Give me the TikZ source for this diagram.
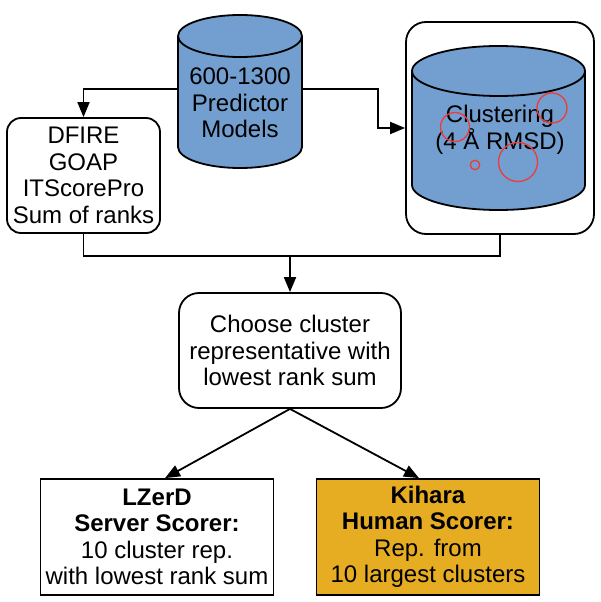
\documentclass[tikz,border=0pt]{standalone}
\usepackage{fontspec}
\setmainfont{Liberation Sans}
\usetikzlibrary{arrows.meta,positioning}
\definecolor{dbblue}{HTML}{729FCF}
\definecolor{humangold}{HTML}{E6AD22}
\definecolor{ringred}{HTML}{EE3B3B}

\begin{document}
\begin{tikzpicture}[x=1pt,y=1pt]
    \tikzset{
        n/.style        =   { rectangle
                            , rounded corners=14pt
                            , align=center
                            , draw=black
                            , line width=1.8pt
                            , inner sep=0pt
                            , font=\fontsize{24}{26.5}\selectfont
                            }
        , scorer/.style =   { n
                            , rounded corners=0pt
                            , minimum width=233pt
                            , minimum height=116pt
                            }
        , txt/.style    =   { align=center
                            , inner sep=0pt
                            , font=\fontsize{24}{26.5}\selectfont
                            }
        , db/.style     =   { fill=dbblue
                            , draw=black
                            , line width=1.8pt
                            }
        , ring/.style   =   { draw=ringred
                            , line width=1.3pt
                            }
        , arrow/.style  =   { line width=1.8pt
                            , -{Triangle[length=15pt,width=12pt]}
                            }
    }
    \useasboundingbox (0,0) rectangle (601,-602);

    % predictor models
    \draw[db] (178,-36) -- (178,-147) arc[start angle=180, end angle=360, x radius=62pt, y radius=21pt]
        -- (302,-36) arc[start angle=0, end angle=180, x radius=62pt, y radius=21pt] -- cycle;
    \draw[db] (178,-36) arc[start angle=180, end angle=360, x radius=62pt, y radius=21pt];
    \node(models)[txt, minimum width=124pt] at (240,-103) {600-1300\\Predictor\\Models};

    \node(scores)[n, minimum width=153pt, minimum height=115pt] at (83.5,-175.5)
        {DFIRE\\GOAP\\ITScorePro\\Sum of ranks};

    % clustering
    \node(clusterbox)[n, rounded corners=20pt, minimum width=188pt, minimum height=212pt] at (500,-128) {};
    \draw[db] (412,-71) -- (412,-185) arc[start angle=180, end angle=360, x radius=86.5pt, y radius=25pt]
        -- (585,-71) arc[start angle=0, end angle=180, x radius=86.5pt, y radius=25pt] -- cycle;
    \draw[db] (412,-71) arc[start angle=180, end angle=360, x radius=86.5pt, y radius=25pt];
    \node(clustering)[txt] at (500,-130) {Clustering\\(4 Å RMSD)};
    \draw[ring] (455,-127) circle[radius=14.5pt];
    \draw[ring] (552,-108) circle[radius=15pt];
    \draw[ring] (518,-162) circle[radius=19.5pt];
    \draw[ring] (475,-165) circle[radius=4.7pt];

    \coordinate(join) at (290,-256);
    \node(choose)[n, rounded corners=20pt, minimum width=222pt, minimum height=115pt] at (290,-350.5)
        {Choose cluster\\representative with\\lowest rank sum};
    \node(server)[scorer] at (157,-537)
        {\textbf{LZerD}\\\textbf{Server Scorer:}\\10 cluster rep.\\with lowest rank sum};
    \node(human)[scorer, fill=humangold, minimum width=223pt] at (428,-537)
        {\textbf{Kihara}\\\textbf{Human Scorer:}\\Rep. from\\10 largest clusters};

    \draw[arrow] ([yshift=14pt]models.west) -| (scores.north);
    \draw[arrow] ([yshift=14pt]models.east) -- ++(76,0) |- (clusterbox.west);
    \draw[line width=1.8pt] (scores.south) |- (join) -| (clusterbox.south);
    \draw[arrow] (join) -- (choose.north);
    \draw[arrow] (choose.south) -- ([xshift=8pt]server.north);
    \draw[arrow] (choose.south) -- ([xshift=-9pt]human.north);
\end{tikzpicture}
\end{document}
